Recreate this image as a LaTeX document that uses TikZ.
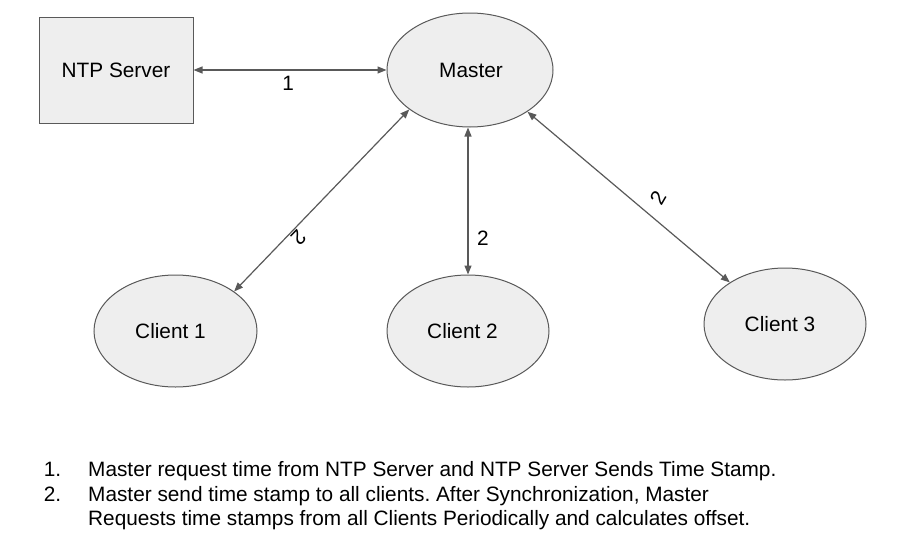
\documentclass[tikz,border=0pt]{standalone}
\usepackage{fontspec}
\setmainfont{Liberation Sans}
\usetikzlibrary{arrows.meta,shapes.geometric}
\definecolor{boxfill}{HTML}{EEEEEE}
\definecolor{edgegray}{HTML}{595959}
\frenchspacing
\begin{document}
\begin{tikzpicture}[x=1pt,y=-1pt,
  every node/.style={font=\fontsize{20.8}{25}\selectfont, text=black},
  shapebox/.style={draw=edgegray, fill=boxfill, line width=1pt, inner sep=0pt},
  ellnode/.style={shapebox, ellipse},
  link/.style={draw=edgegray, line width=1.2pt, {Triangle[length=9pt,width=7pt]}-{Triangle[length=9pt,width=7pt]}},
  lbl/.style={inner sep=0pt},
  listtext/.style={anchor=base west, inner sep=0pt}]
\useasboundingbox (0,0) rectangle (918,541);
\node[shapebox, minimum width=154pt, minimum height=106pt] (ntp) at (116,70) {NTP Server};
\node[ellnode, minimum width=166pt, minimum height=114pt] (master) at (470,70) {Master\kern-2pt};
\node[ellnode, minimum width=163pt, minimum height=112pt] (c1) at (175.5,331) {Client 1\kern10pt};
\node[ellnode, minimum width=162pt, minimum height=112pt] (c2) at (468,331) {Client 2\kern11pt};
\node[ellnode, minimum width=162pt, minimum height=112pt] (c3) at (785,324) {Client 3\kern10pt};
\draw[link] (ntp) -- (master) node[lbl, pos=0.49, yshift=-13pt] {1};
\draw[link] (master.south -| c2.north) -- (c2.north) node[lbl, pos=0.75, xshift=15pt] {2};
\draw[link] (c1.34) -- (master.213.7) node[lbl, pos=0.33, xshift=6.6pt, yshift=-6.4pt, rotate=226] {2};
\draw[link] (master.-36.4) -- (c3.143.7) node[lbl, pos=0.587, xshift=11.8pt, yshift=13.6pt, rotate=60] {2};
\node[listtext] (n1) at (43.7,476) {1.};
\node[listtext] (t1) at (88,476) {Master request time from NTP Server and NTP Server Sends Time Stamp.};
\node[listtext] (n2) at (43.7,501) {2.};
\node[listtext] (t2) at (88,501) {Master send time stamp to all clients. After Synchronization, Master};
\node[listtext] (t3) at (88,525.7) {Requests time stamps from all Clients Periodically and calculates offset.};
\end{tikzpicture}
\end{document}
